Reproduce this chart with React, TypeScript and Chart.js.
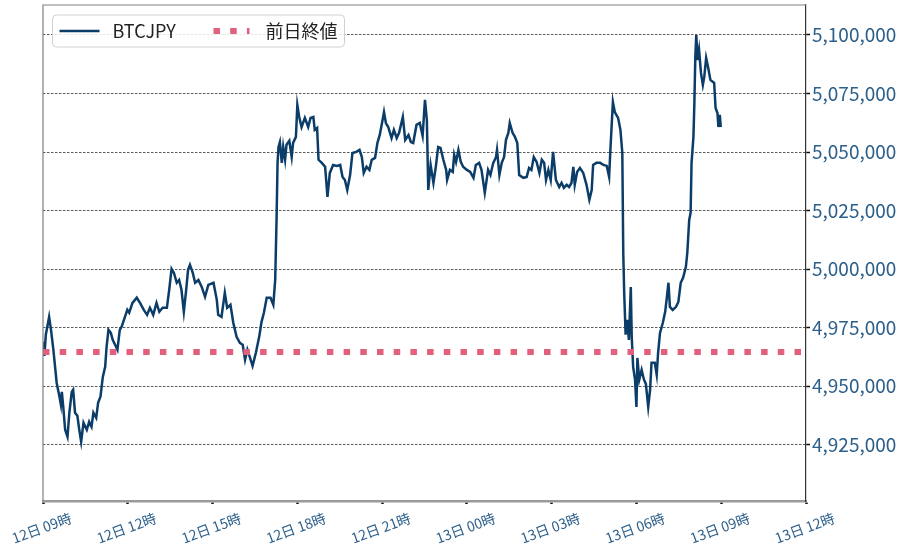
import { useEffect, useRef } from "react";
import { Chart, registerables, type Plugin } from "chart.js";

Chart.register(...registerables);

// minutes since 12日 09:00
const timeMinutes = [
  0, 3, 6, 13, 17, 22, 29, 35, 38, 40,
  43, 47, 52, 56, 61, 64, 68, 73, 77, 81,
  86, 93, 98, 103, 107, 113, 117, 122, 127, 132,
  135, 139, 144, 148, 153, 158, 163, 167, 174, 179,
  183, 190, 199, 206, 214, 221, 227, 234, 241, 247,
  254, 263, 268, 273, 278, 284, 289, 294, 299, 304,
  308, 312, 318, 323, 330, 337, 344, 351, 362, 369,
  372, 379, 386, 391, 398, 404, 411, 418, 424, 429,
  434, 441, 445, 452, 459, 464, 469, 475, 483, 489,
  493, 496, 498, 500, 503, 507, 510, 514, 517, 523,
  528, 531, 537, 540, 544, 549, 556, 563, 568, 574,
  577, 582, 585, 592, 599, 604, 609, 616, 624, 631,
  636, 641, 646, 652, 657, 665, 672, 677, 681, 687,
  693, 698, 705, 710, 715, 721, 724, 728, 733, 740,
  745, 751, 756, 764, 769, 776, 781, 786, 793, 800,
  806, 811, 815, 818, 823, 829, 834, 839, 844, 850,
  856, 858, 864, 870, 873, 877, 882, 887, 892, 900,
  907, 914, 919, 926, 931, 938, 945, 950, 956, 962,
  964, 969, 974, 979, 983, 988, 991, 997, 1002, 1007,
  1011, 1020, 1027, 1032, 1037, 1042, 1048, 1054, 1059, 1064,
  1068, 1073, 1078, 1083, 1089, 1096, 1101, 1106, 1112, 1117,
  1122, 1126, 1129, 1134, 1140, 1147, 1154, 1160, 1165, 1168,
  1175, 1183, 1190, 1197, 1202, 1205, 1210, 1214, 1221, 1226,
  1230, 1232, 1234, 1237, 1240, 1244, 1248, 1250, 1253, 1257,
  1260, 1262, 1266, 1271, 1276, 1280, 1285, 1289, 1292, 1299,
  1303, 1306, 1310, 1316, 1321, 1324, 1328, 1331, 1337, 1344,
  1349, 1354, 1359, 1365, 1368, 1372, 1375, 1377, 1381, 1383,
  1385, 1387, 1390, 1393, 1397, 1401, 1404, 1408, 1412, 1417,
  1425, 1428, 1432, 1434, 1437, 1439,
];

const btcPrices = [
  4969000, 4963000, 4972000, 4979600, 4974100, 4965600, 4951500, 4945500, 4942100, 4947600,
  4941200, 4931400, 4928400, 4938700, 4947600, 4948500, 4938700, 4937400, 4931400, 4926300,
  4934400, 4931400, 4934800, 4932700, 4938700, 4936500, 4942900, 4945500, 4954000, 4958300,
  4966800, 4974100, 4972800, 4969800, 4967700, 4965600, 4974100, 4975400, 4979600, 4982600,
  4981400, 4985600, 4987800, 4985600, 4982600, 4980500, 4983500, 4980500, 4985600, 4981800,
  4983500, 4983500, 4991200, 5000100, 4998400, 4994200, 4995400, 4991200, 4981800, 4991200,
  4999700, 5001800, 4998400, 4994200, 4995400, 4992400, 4988200, 4993300, 4994200, 4986900,
  4980500, 4979600, 4989900, 4983500, 4984800, 4977100, 4971100, 4968500, 4967700, 4961300,
  4965600, 4961300, 4958700, 4964300, 4971100, 4977500, 4981400, 4987800, 4987800, 4984800,
  4995400, 5022300, 5045400, 5052200, 5054300, 5045400, 5052200, 5046700, 5053100, 5054800,
  5047900, 5053900, 5056500, 5070100, 5065000, 5060700, 5064600, 5060700, 5064600, 5065000,
  5059500, 5060300, 5046700, 5045400, 5043700, 5030900, 5041100, 5044500, 5044100, 5044500,
  5039400, 5038100, 5033800, 5040200, 5049600, 5050100, 5050900, 5047900, 5041100, 5043700,
  5042400, 5046700, 5047500, 5053900, 5057300, 5063700, 5067100, 5062400, 5060700, 5056000,
  5059500, 5056000, 5058200, 5065000, 5055200, 5057300, 5054300, 5053900, 5061600, 5062400,
  5056900, 5072300, 5063700, 5033800, 5044500, 5036800, 5043700, 5052200, 5051800, 5046700,
  5042400, 5038100, 5042400, 5041500, 5048800, 5045800, 5050900, 5045800, 5043700, 5042400,
  5041500, 5039000, 5044500, 5045400, 5042400, 5032600, 5042400, 5040200, 5045400, 5047900,
  5050900, 5040200, 5045400, 5047900, 5055200, 5058200, 5062400, 5058200, 5056500, 5053900,
  5040200, 5039000, 5039400, 5043200, 5042400, 5047900, 5045800, 5041100, 5046700, 5045400,
  5038100, 5042400, 5038100, 5050100, 5038100, 5035100, 5036800, 5034700, 5036000, 5035100,
  5036800, 5043700, 5036000, 5041500, 5043200, 5041100, 5036000, 5029600, 5033800, 5044500,
  5045400, 5045400, 5044500, 5044100, 5039400, 5052200, 5071400, 5067100, 5064600, 5059500,
  5049600, 5007000, 4989900, 4972000, 4978400, 4969800, 4992400, 4971100, 4958300, 4952800,
  4941200, 4962100, 4952800, 4957000, 4952800, 4951000, 4941200, 4948500, 4960000, 4960000,
  4954900, 4964300, 4972800, 4977100, 4981800, 4986900, 4994200, 4983900, 4982600, 4983900,
  4986000, 4994200, 4996300, 5001000, 5007000, 5021000, 5024000, 5045400, 5056500, 5071000,
  5090600, 5100000, 5089300, 5093600, 5083800, 5078700, 5082100, 5090200, 5086300, 5080800,
  5079500, 5068800, 5066700, 5060700, 5065900, 5060700,
];

const prevClose = 4964600;
const seriesLabels = ["BTCJPY", "前日終値"];

const xTickMinutes = [0, 180, 360, 540, 720, 900, 1080, 1260, 1440, 1620];
const xTickLabels = [
  "12日 09時", "12日 12時", "12日 15時", "12日 18時", "12日 21時",
  "13日 00時", "13日 03時", "13日 06時", "13日 09時", "13日 12時",
];
const yTickValues = [4925000, 4950000, 4975000, 5000000, 5025000, 5050000, 5075000, 5100000];

const FONT = '"Noto Sans CJK JP", "Noto Sans", sans-serif';
const LINE_BLUE = "#0b3d68";
const PINK = "#e0607e";
const TICK_BLUE = "#2c5f8a";

// frame (left/top) + legend drawn inside the plot
const framePlugin: Plugin = {
  id: "frameLegend",
  afterDraw(chart) {
    const { ctx, chartArea } = chart;
    const { left, top, right, bottom } = chartArea;
    ctx.save();
    ctx.strokeStyle = "#808080";
    ctx.lineWidth = 1.2;
    ctx.beginPath();
    ctx.moveTo(left, bottom);
    ctx.lineTo(left, top);
    ctx.lineTo(right, top);
    ctx.stroke();

    // legend box
    const bx = left + 9.5;
    const by = top + 10;
    const bw = 292;
    const bh = 32;
    ctx.fillStyle = "rgba(255,255,255,0.85)";
    ctx.strokeStyle = "#d0d0d0";
    ctx.lineWidth = 1;
    ctx.beginPath();
    ctx.roundRect(bx, by, bw, bh, 4);
    ctx.fill();
    ctx.stroke();

    const cy = by + bh / 2;
    ctx.strokeStyle = LINE_BLUE;
    ctx.lineWidth = 2.5;
    ctx.beginPath();
    ctx.moveTo(bx + 7, cy);
    ctx.lineTo(bx + 47, cy);
    ctx.stroke();

    ctx.strokeStyle = PINK;
    ctx.lineWidth = 6;
    ctx.setLineDash([6.5, 10.2]);
    ctx.beginPath();
    ctx.moveTo(bx + 161, cy);
    ctx.lineTo(bx + 197, cy);
    ctx.stroke();
    ctx.setLineDash([]);

    ctx.fillStyle = "#222";
    ctx.font = `18px ${FONT}`;
    ctx.textBaseline = "middle";
    ctx.textAlign = "left";
    ctx.fillText(seriesLabels[0], bx + 60, cy);
    ctx.fillText(seriesLabels[1], bx + 213, cy);
    ctx.restore();
  },
};

export default function App() {
  const canvasRef = useRef<HTMLCanvasElement>(null);
  const chartRef = useRef<Chart | null>(null);

  useEffect(() => {
    document.body.style.margin = "0";
    if (!canvasRef.current) return;
    const ctx = canvasRef.current.getContext("2d");
    if (!ctx) return;

    if (chartRef.current) chartRef.current.destroy();

    const btcData = timeMinutes.map((t, i) => ({ x: t, y: btcPrices[i] }));
    const closeData = [
      { x: xTickMinutes[0], y: prevClose },
      { x: xTickMinutes[xTickMinutes.length - 1], y: prevClose },
    ];

    chartRef.current = new Chart(ctx, {
      type: "line",
      data: {
        datasets: [
          {
            label: seriesLabels[0],
            data: btcData,
            borderColor: LINE_BLUE,
            borderWidth: 2.5,
            pointRadius: 0,
            tension: 0,
            order: 1,
          },
          {
            label: seriesLabels[1],
            data: closeData,
            borderColor: PINK,
            borderWidth: 6,
            borderDash: [6.5, 10.2],
            borderCapStyle: "butt",
            pointRadius: 0,
            order: 0,
          },
        ],
      },
      options: {
        animation: false,
        responsive: false,
        maintainAspectRatio: false,
        layout: { padding: { left: 43, top: 5, right: 0, bottom: 0 } },
        plugins: {
          legend: { display: false },
          tooltip: { enabled: false },
        },
        scales: {
          x: {
            type: "linear",
            min: 0,
            max: 1620,
            afterBuildTicks: (scale) => {
              scale.ticks = xTickMinutes.map((v) => ({ value: v }));
            },
            afterFit: (scale) => {
              scale.height = 57;
              scale.paddingLeft = 0;
              scale.paddingRight = 0;
            },
            grid: {
              drawOnChartArea: false,
              drawTicks: true,
              tickLength: 3,
              tickWidth: 2.5,
              tickColor: "#111",
            },
            border: { display: true, color: "#9a9a9a", width: 2.5 },
            ticks: {
              autoSkip: false,
              minRotation: 20,
              maxRotation: 20,
              labelOffset: 28,
              padding: 5.5,
              color: TICK_BLUE,
              font: { family: FONT, size: 14 },
              callback: (_v, i) => xTickLabels[i],
            },
          },
          y: {
            position: "right",
            min: 4901000,
            max: 5112800,
            afterBuildTicks: (scale) => {
              scale.ticks = yTickValues.map((v) => ({ value: v }));
            },
            afterFit: (scale) => {
              scale.width = 105;
              scale.paddingTop = 0;
              scale.paddingBottom = 0;
            },
            grid: {
              color: "#333",
              lineWidth: 0.8,
              drawTicks: true,
              tickLength: 4,
              tickWidth: 1.5,
              tickColor: "#111",
            },
            border: { display: true, color: "#333", width: 1.2, dash: [2.5, 1.5] },
            ticks: {
              padding: 2,
              color: TICK_BLUE,
              font: { family: FONT, size: 19 },
              callback: (v) => Number(v).toLocaleString("en-US"),
            },
          },
        },
      },
      plugins: [framePlugin],
    });

    return () => {
      if (chartRef.current) {
        chartRef.current.destroy();
        chartRef.current = null;
      }
    };
  }, []);

  return (
    <div style={{ width: 911, height: 558 }}>
      <canvas ref={canvasRef} width={911} height={558} />
    </div>
  );
}
